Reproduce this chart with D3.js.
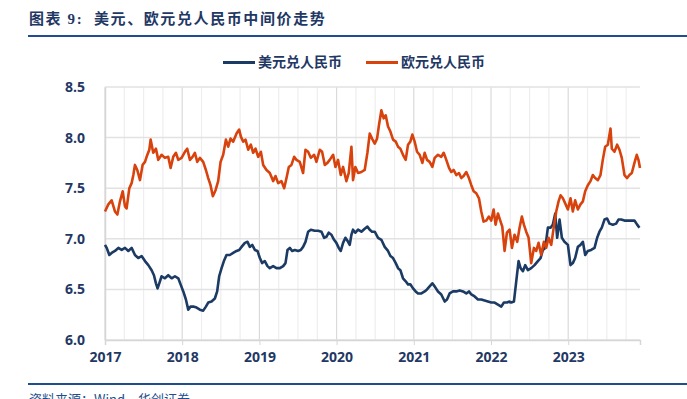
<!DOCTYPE html>
<html>
<head>
<meta charset="utf-8">
<script src="https://cdn.jsdelivr.net/npm/d3@7"></script>
<style>
	body { margin: 0; background: #fff; }
	#chart { width: 687px; height: 399px; overflow: hidden; }
</style>
</head>
<body>
<div id="chart"></div>
<script>
// dates as decimal years
var usdDates = [2017.000,2017.022,2017.056,2017.086,2017.129,2017.173,2017.216,2017.259,2017.302,2017.345,2017.388,2017.431,2017.474,2017.518,2017.561,2017.604,2017.634,2017.660,2017.681,2017.703,2017.733,2017.776,2017.819,2017.863,2017.906,2017.949,2017.979,
	2018.014,2018.048,2018.078,2018.108,2018.143,2018.186,2018.229,2018.272,2018.307,2018.337,2018.380,2018.423,2018.453,2018.479,2018.510,2018.540,2018.574,2018.617,2018.660,2018.704,2018.738,2018.769,2018.812,2018.846,2018.876,2018.907,2018.941,2018.975,
	2019.006,2019.036,2019.070,2019.105,2019.135,2019.178,2019.221,2019.265,2019.308,2019.338,2019.364,2019.394,2019.424,2019.459,2019.502,2019.536,2019.566,2019.597,2019.631,2019.666,2019.717,2019.760,2019.804,2019.838,2019.868,2019.898,2019.933,2019.967,2019.997,
	2020.028,2020.054,2020.084,2020.114,2020.149,2020.170,2020.192,2020.213,2020.243,2020.278,2020.321,2020.364,2020.399,2020.429,2020.459,2020.494,2020.537,2020.580,2020.623,2020.666,2020.697,2020.731,2020.766,2020.796,2020.826,2020.860,2020.895,2020.925,2020.955,2020.990,
	2021.024,2021.055,2021.098,2021.141,2021.171,2021.205,2021.240,2021.270,2021.313,2021.356,2021.400,2021.430,2021.464,2021.507,2021.550,2021.594,2021.637,2021.680,2021.714,2021.745,2021.788,2021.831,2021.874,2021.917,2021.960,
	2022.003,2022.047,2022.090,2022.133,2022.167,2022.206,2022.241,2022.262,2022.297,2022.327,2022.357,2022.383,2022.413,2022.443,2022.478,2022.521,2022.564,2022.607,2022.642,2022.672,2022.702,2022.737,2022.771,2022.801,2022.832,2022.857,2022.888,2022.918,2022.952,2022.996,
	2023.030,2023.060,2023.090,2023.125,2023.159,2023.190,2023.220,2023.254,2023.297,2023.341,2023.375,2023.405,2023.435,2023.470,2023.504,2023.535,2023.578,2023.621,2023.651,2023.686,2023.729,2023.772,2023.815,2023.858,2023.893,2023.923];
var usdRates = [6.94,6.91,6.84,6.86,6.88,6.91,6.89,6.91,6.88,6.91,6.84,6.81,6.83,6.78,6.74,6.69,6.64,6.56,6.51,6.56,6.63,6.61,6.64,6.61,6.63,6.61,6.55,
	6.48,6.40,6.30,6.33,6.33,6.32,6.30,6.29,6.33,6.37,6.38,6.41,6.48,6.63,6.71,6.78,6.84,6.84,6.86,6.88,6.89,6.92,6.96,6.97,6.92,6.94,6.89,6.88,
	6.81,6.76,6.78,6.73,6.71,6.73,6.71,6.71,6.73,6.76,6.89,6.91,6.88,6.89,6.88,6.89,6.92,6.97,7.07,7.09,7.08,7.08,7.07,7.01,7.02,7.06,7.04,6.99,6.96,
	6.91,6.88,6.96,7.01,6.97,6.94,7.04,7.09,7.06,7.09,7.07,7.10,7.12,7.09,7.07,7.07,7.01,6.99,6.92,6.88,6.83,6.81,6.76,6.71,6.69,6.61,6.58,6.55,6.55,6.51,
	6.48,6.46,6.46,6.48,6.50,6.53,6.56,6.53,6.48,6.45,6.38,6.40,6.46,6.48,6.48,6.49,6.48,6.46,6.48,6.45,6.43,6.40,6.40,6.39,6.38,
	6.37,6.37,6.35,6.33,6.37,6.37,6.38,6.37,6.38,6.58,6.78,6.71,6.68,6.74,6.69,6.71,6.74,6.78,6.81,6.89,6.91,7.11,7.11,7.14,7.25,7.01,7.19,7.01,6.97,6.94,
	6.74,6.76,6.81,6.92,6.94,6.97,6.84,6.88,6.89,6.91,7.01,7.07,7.11,7.19,7.20,7.15,7.14,7.15,7.19,7.19,7.18,7.18,7.18,7.18,7.14,7.11];

var eurDates = [2017.000,2017.043,2017.086,2017.129,2017.160,2017.194,2017.229,2017.259,2017.280,2017.315,2017.345,2017.367,2017.388,2017.418,2017.453,2017.487,2017.518,2017.539,2017.574,2017.591,2017.625,2017.660,2017.690,2017.733,2017.776,2017.819,2017.850,2017.884,2017.919,2017.949,2017.992,
	2018.035,2018.065,2018.100,2018.134,2018.164,2018.195,2018.229,2018.272,2018.307,2018.337,2018.367,2018.397,2018.432,2018.466,2018.497,2018.531,2018.566,2018.596,2018.626,2018.660,2018.704,2018.738,2018.760,2018.790,2018.820,2018.855,2018.889,2018.919,2018.950,2018.984,
	2019.019,2019.049,2019.092,2019.135,2019.178,2019.208,2019.243,2019.286,2019.321,2019.351,2019.381,2019.415,2019.450,2019.480,2019.523,2019.566,2019.597,2019.631,2019.666,2019.709,2019.739,2019.782,2019.812,2019.847,2019.881,2019.911,2019.955,2019.985,
	2020.019,2020.054,2020.084,2020.127,2020.157,2020.192,2020.213,2020.243,2020.278,2020.321,2020.364,2020.399,2020.429,2020.459,2020.494,2020.524,2020.550,2020.580,2020.610,2020.636,2020.666,2020.697,2020.731,2020.766,2020.796,2020.826,2020.860,2020.895,2020.925,2020.955,2020.981,
	2021.011,2021.042,2021.076,2021.111,2021.141,2021.171,2021.205,2021.240,2021.270,2021.313,2021.356,2021.387,2021.421,2021.456,2021.486,2021.516,2021.551,2021.585,2021.615,2021.645,2021.680,2021.714,2021.745,2021.775,2021.809,2021.844,2021.874,2021.904,2021.939,2021.973,
	2022.003,2022.034,2022.059,2022.090,2022.120,2022.146,2022.176,2022.206,2022.241,2022.271,2022.305,2022.340,2022.370,2022.400,2022.426,2022.456,2022.487,2022.521,2022.556,2022.586,2022.616,2022.650,2022.685,2022.715,2022.745,2022.780,2022.814,2022.845,2022.875,2022.901,2022.931,2022.961,2022.996,
	2023.030,2023.060,2023.090,2023.125,2023.159,2023.190,2023.220,2023.254,2023.289,2023.319,2023.349,2023.384,2023.418,2023.448,2023.479,2023.513,2023.548,2023.565,2023.599,2023.634,2023.664,2023.694,2023.729,2023.763,2023.793,2023.824,2023.858,2023.888,2023.910,2023.930];
var eurRates = [7.27,7.34,7.38,7.27,7.24,7.37,7.47,7.32,7.30,7.50,7.55,7.63,7.73,7.68,7.58,7.73,7.76,7.81,7.88,7.98,7.85,7.89,7.78,7.83,7.80,7.81,7.70,7.81,7.85,7.78,7.80,
	7.86,7.89,7.78,7.81,7.85,7.76,7.80,7.76,7.68,7.60,7.53,7.42,7.48,7.57,7.76,7.83,7.98,7.91,7.99,7.96,8.04,8.08,8.01,7.96,7.98,7.88,7.93,7.85,7.89,7.81,
	7.86,7.73,7.68,7.65,7.57,7.62,7.55,7.57,7.50,7.60,7.71,7.73,7.81,7.78,7.76,7.65,7.88,7.86,7.80,7.83,7.76,7.88,7.86,7.73,7.75,7.78,7.83,7.71,
	7.78,7.63,7.71,7.57,7.65,7.91,7.58,7.71,7.65,7.66,7.68,7.85,8.04,7.99,7.94,7.99,8.13,8.27,8.19,8.22,8.11,8.06,7.98,7.96,7.91,7.89,7.83,7.78,7.93,7.96,8.03,
	7.96,7.86,7.83,7.75,7.85,7.78,7.76,7.71,7.80,7.83,7.81,7.85,7.78,7.70,7.66,7.68,7.63,7.65,7.60,7.62,7.66,7.60,7.53,7.47,7.45,7.40,7.27,7.17,7.18,7.22,
	7.18,7.29,7.14,7.25,7.18,7.12,6.88,7.06,7.09,6.91,7.04,6.97,7.11,7.22,7.14,7.07,7.01,6.76,6.91,6.88,6.96,6.84,6.97,6.91,7.01,6.94,7.12,7.27,7.37,7.43,7.40,7.35,7.29,
	7.40,7.27,7.38,7.29,7.34,7.37,7.47,7.53,7.57,7.63,7.60,7.58,7.63,7.78,7.91,7.93,8.09,7.89,7.86,7.93,7.88,7.80,7.63,7.60,7.63,7.65,7.75,7.83,7.78,7.70];

var yearTicks = [2017, 2018, 2019, 2020, 2021, 2022, 2023];
var rateTicks = [6.0, 6.5, 7.0, 7.5, 8.0, 8.5];
var seriesNames = ["美元兑人民币", "欧元兑人民币"];
var seriesColors = ["#1b3a64", "#d8420c"];

var titleText = "图表 9:  美元、欧元兑人民币中间价走势";
var sourceText = "资料来源：Wind，华创证券";

var navy = "#1f3864";

var svg = d3.select("#chart").append("svg")
		.attr("width", 687)
		.attr("height", 399);

var margin = { left: 105, right: 47, top: 87, bottom: 59 };
var width = 687 - margin.left - margin.right;
var height = 399 - margin.top - margin.bottom;

// title + rules
svg.append("text")
		.attr("x", 29)
		.attr("y", 24)
		.attr("fill", navy)
		.style("font-family", "'Liberation Serif', 'Noto Sans CJK SC', serif")
		.style("font-size", "15px")
		.style("font-weight", "bold")
		.style("letter-spacing", "1.6px")
		.style("white-space", "pre")
		.text(titleText);

svg.append("line")
		.attr("x1", 28).attr("x2", 687)
		.attr("y1", 36).attr("y2", 36)
		.attr("stroke", "#1f4e8c")
		.attr("stroke-width", 2);

svg.append("line")
		.attr("x1", 28).attr("x2", 687)
		.attr("y1", 384).attr("y2", 384)
		.attr("stroke", "#1f4e8c")
		.attr("stroke-width", 2);

svg.append("text")
		.attr("x", 29)
		.attr("y", 404)
		.attr("fill", "#1f4e8c")
		.style("font-family", "'Noto Sans CJK SC', sans-serif")
		.style("font-size", "13px")
		.text(sourceText);

var g = svg.append("g")
		.attr("transform", "translate(" + margin.left + "," + margin.top + ")");

var xscale = d3.scaleLinear()
	.domain([2017, 2023.93])
	.range([0, width]);

var yscale = d3.scaleLinear()
	.domain([6, 8.5])
	.range([height, 0]);

// quarterly vertical grid
var quarters = d3.range(2017, 2023.93, 0.25);
g.selectAll(".vgrid").data(quarters)
	.enter().append("line")
		.attr("class", "vgrid")
		.attr("x1", function(d){ return xscale(d); })
		.attr("x2", function(d){ return xscale(d); })
		.attr("y1", 0)
		.attr("y2", height)
		.attr("stroke", function(d){ return d % 1 === 0 ? "#dadada" : "#eeeeee"; })
		.attr("stroke-width", 1.2);

g.selectAll(".hgrid").data(rateTicks)
	.enter().append("line")
		.attr("class", "hgrid")
		.attr("x1", 0)
		.attr("x2", width)
		.attr("y1", function(d){ return yscale(d); })
		.attr("y2", function(d){ return yscale(d); })
		.attr("stroke", "#e2e2e2")
		.attr("stroke-width", 1.5);

var xAxis = g.append("g")
		.attr("transform", "translate(0," + height + ")")
		.call(d3.axisBottom(xscale).tickValues(yearTicks).tickFormat(d3.format("d")).tickSize(5).tickPadding(7));

var yAxis = g.append("g")
		.call(d3.axisLeft(yscale).tickValues(rateTicks).tickFormat(d3.format(".1f")).tickSize(0).tickPadding(20));

[xAxis, yAxis].forEach(function(ax){
	ax.select(".domain").attr("stroke", "#d6d6d6").attr("stroke-width", 1.5);
	ax.selectAll(".tick line").attr("stroke", "#d6d6d6");
	ax.selectAll(".tick text")
		.attr("fill", navy)
		.style("font-family", "'Open Sans', sans-serif")
		.style("font-size", "14px")
		.style("font-weight", "bold");
});

var line = d3.line()
	.x(function(d){ return xscale(d[0]); })
	.y(function(d){ return yscale(d[1]); });

var usd = d3.zip(usdDates, usdRates);
var eur = d3.zip(eurDates, eurRates);

[usd, eur].forEach(function(series, i){
	g.append("path")
			.datum(series)
			.attr("d", line)
			.attr("fill", "none")
			.attr("stroke", seriesColors[i])
			.attr("stroke-width", 2.6)
			.attr("stroke-linejoin", "round");
});

// legend
var legendX = [223, 366];
var legend = svg.selectAll(".legend").data(seriesNames)
	.enter().append("g")
		.attr("class", "legend")
		.attr("transform", function(d,i){ return "translate(" + legendX[i] + ",62.5)"; });

legend.append("line")
		.attr("x1", 0).attr("x2", 32)
		.attr("stroke", function(d,i){ return seriesColors[i]; })
		.attr("stroke-width", 3);

legend.append("text")
		.attr("x", 35)
		.attr("dy", "0.35em")
		.attr("fill", navy)
		.style("font-family", "'Noto Sans CJK SC', sans-serif")
		.style("font-size", "14px")
		.style("font-weight", "bold")
		.text(function(d){ return d; });
</script>
</body>
</html>
